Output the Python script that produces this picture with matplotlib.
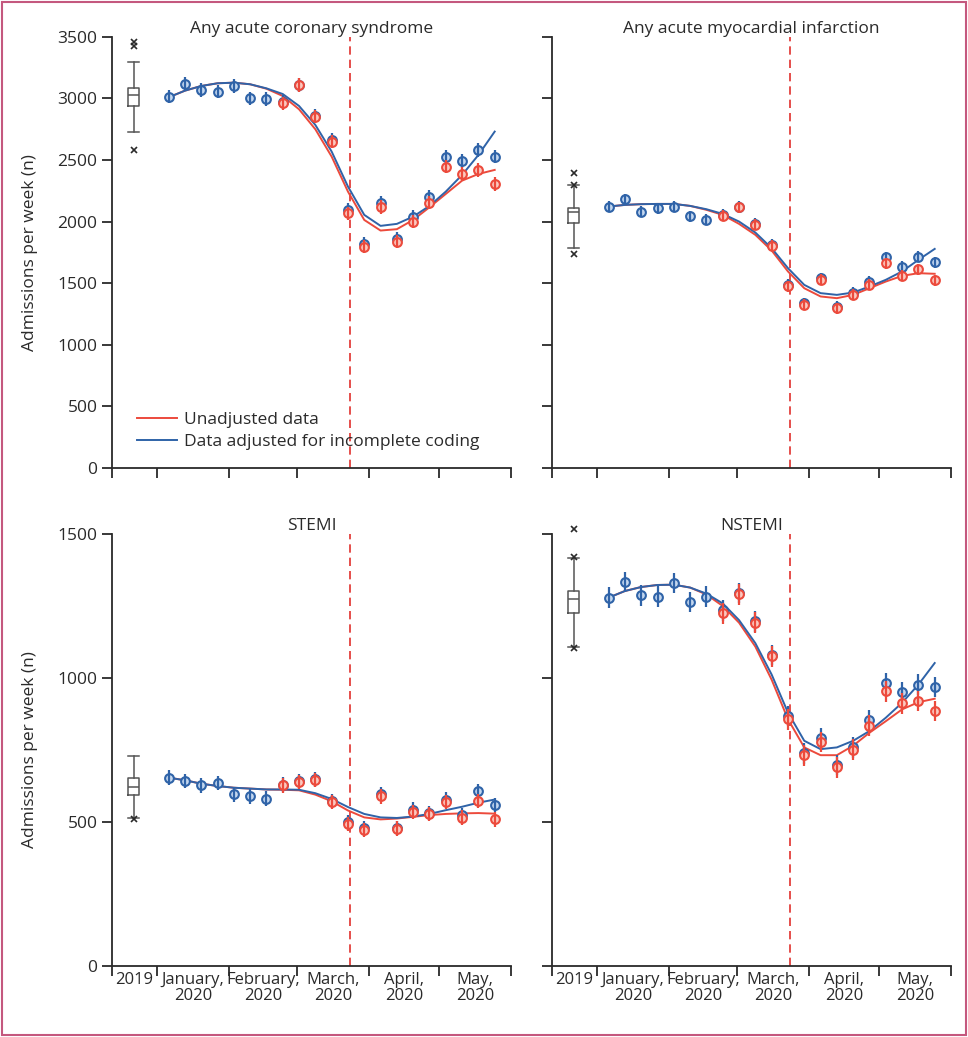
import numpy as np
import matplotlib
matplotlib.use("Agg")
import matplotlib.pyplot as plt
from matplotlib.patches import Rectangle

plt.rcParams['font.family'] = ['Open Sans', 'DejaVu Sans']

# ---------------------------------------------------------------------------
# Data (days since 1 Jan 2020 for x; admissions per week for y)
# ---------------------------------------------------------------------------
WEEK_DAY = [5, 12, 19, 26, 33, 40, 47, 54, 61, 68, 75, 82, 89, 96,
            103, 110, 117, 124, 131, 138, 145]
LOCKDOWN_DAY = 83
BOX_DAY = -10

MONTH_EDGES = [-19.3, 0, 31, 60, 91, 121, 152]
MONTH_LABELS = ['2019', 'January,\n2020', 'February,\n2020', 'March,\n2020',
                'April,\n2020', 'May,\n2020']

TITLES = ['Any acute coronary syndrome', 'Any acute myocardial infarction',
          'STEMI', 'NSTEMI']

nan = np.nan

# observed weekly counts, adjusted for incomplete coding (blue)
acs_adj = [3013, 3114, 3068, 3054, 3100, 3000, 2995, 2970, 3110, 2860, 2660,
           2094, 1819, 2154, 1859, 2040, 2203, 2527, 2492, 2581, 2527]
ami_adj = [2122, 2181, 2081, 2108, 2122, 2041, 2014, 2054, 2120, 1980, 1812,
           1486, 1338, 1540, 1310, 1424, 1513, 1711, 1635, 1716, 1668]
stemi_adj = [654, 642, 627, 635, 596, 589, 581, 630, 642, 648, 572,
             500, 478, 598, 480, 543, 531, 578, 523, 608, 558]
nstemi_adj = [1279, 1333, 1287, 1282, 1330, 1264, 1282, 1235, 1295, 1197, 1080,
              868, 739, 790, 698, 759, 854, 983, 951, 977, 969]

# observed weekly counts, unadjusted (red)
acs_raw = [nan] * 7 + [2959, 3108, 2851, 2649, 2067, 1797, 2116, 1838, 2000,
                       2154, 2446, 2386, 2419, 2305]
ami_raw = [nan] * 7 + [2046, 2116, 1973, 1805, 1473, 1324, 1527, 1297, 1405,
                       1486, 1662, 1559, 1613, 1522]
stemi_raw = [nan] * 7 + [627, 639, 645, 569, 494, 473, 589, 477, 535,
                         527, 569, 515, 572, 509]
nstemi_raw = [nan] * 7 + [1224, 1291, 1192, 1075, 857, 732, 778, 690, 751,
                          834, 954, 912, 920, 885]

# fitted trend curves
acs_fit_adj = [3008, 3062, 3100, 3122, 3127, 3114, 3081, 3035, 2938, 2784, 2568,
               2284, 2054, 1965, 1981, 2040, 2127, 2243, 2378, 2540, 2730]
acs_fit_raw = [3008, 3062, 3100, 3122, 3127, 3114, 3078, 3019, 2911, 2749, 2527,
               2243, 2013, 1927, 1938, 2013, 2116, 2224, 2332, 2386, 2419]
ami_fit_adj = [2122, 2135, 2141, 2143, 2143, 2127, 2100, 2062, 2000, 1911, 1784,
               1622, 1486, 1419, 1405, 1424, 1473, 1527, 1595, 1689, 1778]
ami_fit_raw = [2122, 2135, 2141, 2143, 2143, 2127, 2095, 2054, 1981, 1892, 1765,
               1595, 1459, 1392, 1378, 1405, 1459, 1513, 1559, 1581, 1576]
stemi_fit_adj = [654, 645, 633, 625, 619, 616, 613, 613, 612, 600, 580,
                 552, 528, 516, 514, 519, 528, 541, 553, 567, 578]
stemi_fit_raw = [654, 645, 633, 625, 619, 616, 613, 612, 610, 595, 572,
                 540, 516, 509, 512, 518, 524, 528, 530, 531, 529]
nstemi_fit_adj = [1279, 1302, 1316, 1323, 1324, 1314, 1293, 1259, 1201, 1121, 1012,
                  880, 782, 753, 759, 782, 816, 862, 914, 977, 1052]
nstemi_fit_raw = [1279, 1302, 1316, 1323, 1324, 1314, 1290, 1250, 1192, 1109, 994,
                  857, 759, 732, 732, 765, 810, 850, 891, 916, 928]

# 2019 weekly distribution (box plot)
box_med = [3027, 2076, 622, 1276]
box_q1 = [2938, 1986, 594, 1224]
box_q3 = [3081, 2108, 653, 1302]
box_lo = [2730, 1789, 514, 1109]
box_hi = [3297, 2297, 729, 1417]
box_fliers = [[3460, 3424, 2581], [2397, 2300, 1738], [510], [1517, 1420, 1105]]

ERR_HALF = [55, 45, 25, 36]

ADJ = [acs_adj, ami_adj, stemi_adj, nstemi_adj]
RAW = [acs_raw, ami_raw, stemi_raw, nstemi_raw]
FIT_ADJ = [acs_fit_adj, ami_fit_adj, stemi_fit_adj, nstemi_fit_adj]
FIT_RAW = [acs_fit_raw, ami_fit_raw, stemi_fit_raw, nstemi_fit_raw]

BLUE = '#2f63a8'
BLUE_FILL = '#c4d7ef'
RED = '#ec4a3c'
RED_FILL = '#fbc9c0'
DARK = '#2a2a2a'
FS = 12.5

# ---------------------------------------------------------------------------
# Figure
# ---------------------------------------------------------------------------
W, H = 968, 1037
fig = plt.figure(figsize=(W / 100, H / 100), dpi=100)

rects = [
    [112 / W, 1 - 468 / H, 399 / W, 431.3 / H],
    [552 / W, 1 - 468 / H, 399 / W, 431.3 / H],
    [112 / W, 1 - 966 / H, 399 / W, 432 / H],
    [552 / W, 1 - 966 / H, 399 / W, 432 / H],
]
ylims = [3500, 3500, 1500, 1500]

mids = [(MONTH_EDGES[i] + MONTH_EDGES[i + 1]) / 2 for i in range(len(MONTH_EDGES) - 1)]


def draw_points(ax, x, y, err, edge, fill, z):
    y = np.asarray(y, dtype=float)
    ax.plot(x, y, 'o', ms=6.3, mfc=fill, mec=edge, mew=1.5, zorder=z)
    ok = ~np.isnan(y)
    ax.vlines(np.asarray(x)[ok], y[ok] - err, y[ok] + err, color=edge,
              lw=1.6, zorder=z + 0.5)


for i in range(4):
    ax = fig.add_axes(rects[i])
    x = WEEK_DAY

    # fitted curves
    ax.plot(x, FIT_RAW[i], color=RED, lw=1.4, zorder=3)
    ax.plot(x, FIT_ADJ[i], color=BLUE, lw=1.4, zorder=3)

    # weekly points with error bars
    draw_points(ax, x, ADJ[i], ERR_HALF[i], BLUE, BLUE_FILL, 4)
    draw_points(ax, x, RAW[i], ERR_HALF[i], RED, RED_FILL, 5)

    # 2019 reference distribution
    stats = [dict(med=box_med[i], q1=box_q1[i], q3=box_q3[i],
                  whislo=box_lo[i], whishi=box_hi[i], fliers=box_fliers[i])]
    bp = ax.bxp(stats, positions=[BOX_DAY], widths=5, capwidths=4.6,
                patch_artist=False, manage_ticks=False,
                boxprops=dict(color='#555555', lw=1.1),
                medianprops=dict(color='#555555', lw=1.1),
                whiskerprops=dict(color='#555555', lw=1.1),
                capprops=dict(color='#555555', lw=1.1),
                flierprops=dict(marker='x', ms=4.5, mec=DARK, mew=1.2))
    for fl in bp['fliers']:
        fl.set_clip_on(False)

    ax.axvline(LOCKDOWN_DAY, color='#e0302c', lw=1.2, ls=(0, (5, 3)), zorder=2)

    ax.set_xlim(MONTH_EDGES[0], MONTH_EDGES[-1])
    ax.set_ylim(0, ylims[i])
    ax.set_yticks(np.arange(0, ylims[i] + 1, 500))
    ax.set_xticks(MONTH_EDGES)
    ax.set_xticklabels([])
    ax.set_xticks(mids, minor=True)
    if i >= 2:
        ax.set_xticklabels(MONTH_LABELS, minor=True, fontsize=12,
                           color=DARK, linespacing=1.05)
    else:
        ax.set_xticklabels([], minor=True)
    ax.tick_params(axis='x', which='minor', length=0, pad=4)
    ax.tick_params(axis='both', which='major', length=7, width=1.3,
                   color=DARK, labelsize=FS, labelcolor=DARK)
    if i % 2 == 1:
        ax.set_yticklabels([])
    else:
        ax.set_ylabel('Admissions per week (n)', fontsize=FS, color=DARK,
                      labelpad=14)

    for side in ['top', 'right']:
        ax.spines[side].set_visible(False)
    for side in ['left', 'bottom']:
        ax.spines[side].set_linewidth(1.3)
        ax.spines[side].set_color(DARK)

    ax.set_title(TITLES[i], fontsize=FS, color=DARK, pad=3)

    if i == 0:
        h1, = ax.plot([], [], color=RED, lw=1.4)
        h2, = ax.plot([], [], color=BLUE, lw=1.4)
        ax.legend([h1, h2], ['Unadjusted data',
                             'Data adjusted for incomplete coding'],
                  loc='lower left', bbox_to_anchor=(0.045, 0.025),
                  frameon=False, fontsize=FS, handlelength=2.3,
                  handletextpad=0.4, labelspacing=0.35, borderaxespad=0,
                  labelcolor=DARK)

fig.patches.append(Rectangle((0.002, 0.002), 0.996, 0.996,
                             transform=fig.transFigure, fill=False,
                             edgecolor='#c4587e', lw=1.5))

fig.savefig('out.png', dpi=100)
